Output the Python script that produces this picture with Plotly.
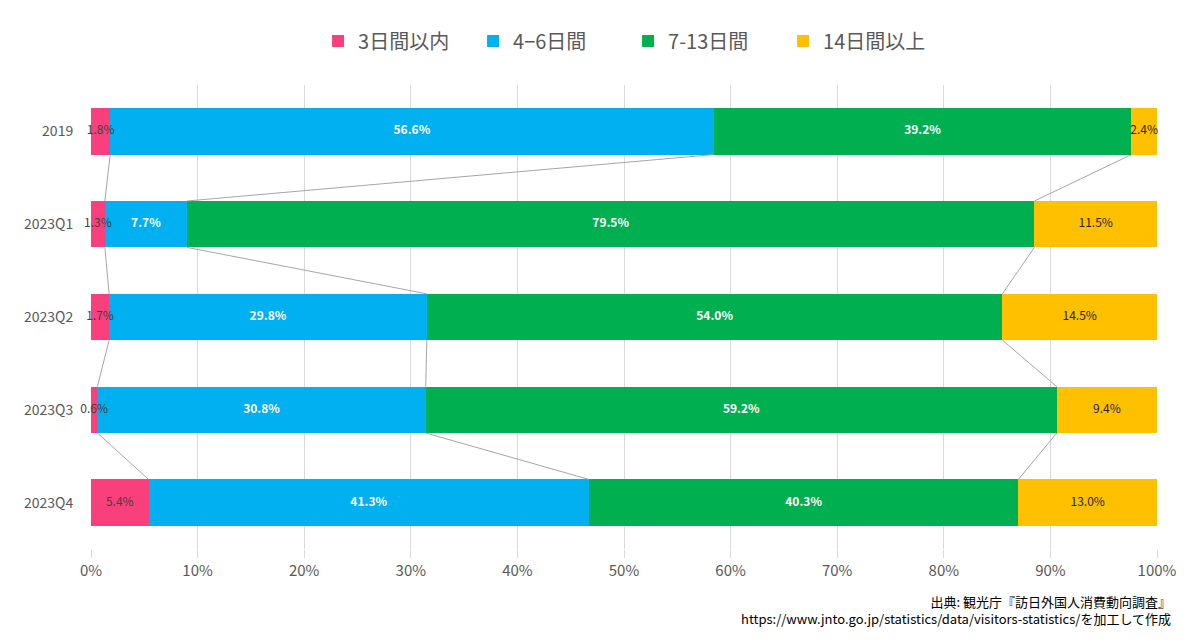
import plotly.graph_objects as go

categories = ['2019', '2023Q1', '2023Q2', '2023Q3', '2023Q4']
series_names = ['3日間以内', '4−6日間', '7-13日間', '14日間以上']
short_stay = [1.8, 1.3, 1.7, 0.6, 5.4]
mid_stay = [56.6, 7.7, 29.8, 30.8, 41.3]
week_stay = [39.2, 79.5, 54.0, 59.2, 40.3]
long_stay = [2.4, 11.5, 14.5, 9.4, 13.0]
x_ticks = [0, 10, 20, 30, 40, 50, 60, 70, 80, 90, 100]

series_values = [short_stay, mid_stay, week_stay, long_stay]
colors = ['#FA3F7D', '#00B0F0', '#00B050', '#FFC000']
label_colors = ['#404040', '#FFFFFF', '#FFFFFF', '#262626']
label_bold = [False, True, True, False]
FONT = 'Noto Sans CJK JP'
BAR_W = 0.5

ypos = list(range(len(categories)))

fig = go.Figure()

# cumulative boundaries, used for connector lines and label positions
cum = [[0.0] * len(categories)]
for vals in series_values:
    cum.append([c + v for c, v in zip(cum[-1], vals)])

# series lines between neighbouring bars
for level in cum[1:4]:
    xs, ys = [], []
    for i in range(len(categories) - 1):
        xs += [level[i], level[i + 1], None]
        ys += [i + BAR_W / 2, i + 1 - BAR_W / 2, None]
    fig.add_trace(go.Scatter(x=xs, y=ys, mode='lines', showlegend=False, hoverinfo='skip',
                             line=dict(color='#A6A6A6', width=1)))

for name, vals, color in zip(series_names, series_values, colors):
    fig.add_trace(go.Bar(
        name=name, y=ypos, x=vals, orientation='h', width=BAR_W,
        marker=dict(color=color, line=dict(width=0)),
    ))

# data labels centred on each segment (not clipped by narrow segments)
for k, (vals, tcolor, bold) in enumerate(zip(series_values, label_colors, label_bold)):
    mids = [(a + b) / 2 for a, b in zip(cum[k], cum[k + 1])]
    labels = [f'{v:.1f}%' for v in vals]
    if bold:
        labels = [f'<b>{t}</b>' for t in labels]
    fig.add_trace(go.Scatter(
        x=mids, y=ypos, mode='text', text=labels, cliponaxis=False,
        textposition='middle center', showlegend=False, hoverinfo='skip',
        textfont=dict(family=FONT, size=12, color=tcolor),
    ))

fig.update_layout(
    barmode='stack',
    width=1200, height=641,
    margin=dict(l=83, r=51, t=77, b=100),
    plot_bgcolor='white', paper_bgcolor='white',
    font=dict(family=FONT, color='#595959'),
    legend=dict(orientation='h', x=0.213, xanchor='left', y=1.095, yanchor='middle',
                font=dict(size=20, color='#595959'), traceorder='normal',
                entrywidth=110),
    xaxis=dict(range=[0, 100], tickvals=x_ticks, ticktext=[f'{t}%' for t in x_ticks],
               showgrid=True, gridcolor='#D9D9D9', gridwidth=1, zeroline=False,
               tickfont=dict(size=15, color='#595959'), ticks='outside', ticklen=8,
               tickcolor='#D9D9D9'),
    yaxis=dict(range=[4.5, -0.5], tickvals=ypos, ticktext=categories, showgrid=False,
               zeroline=False, tickfont=dict(size=14, color='#595959'),
               ticks='outside', ticklen=14, tickcolor='rgba(0,0,0,0)'),
    annotations=[dict(
        text='出典: 観光庁『訪日外国人消費動向調査』<br>https://www.jnto.go.jp/statistics/data/visitors-statistics/を加工して作成',
        x=1.015, y=-0.089, xref='paper', yref='paper', xanchor='right', yanchor='top',
        align='right', showarrow=False, font=dict(size=13, color='#000000', family=FONT),
    )],
)

fig.write_html('out.html')
